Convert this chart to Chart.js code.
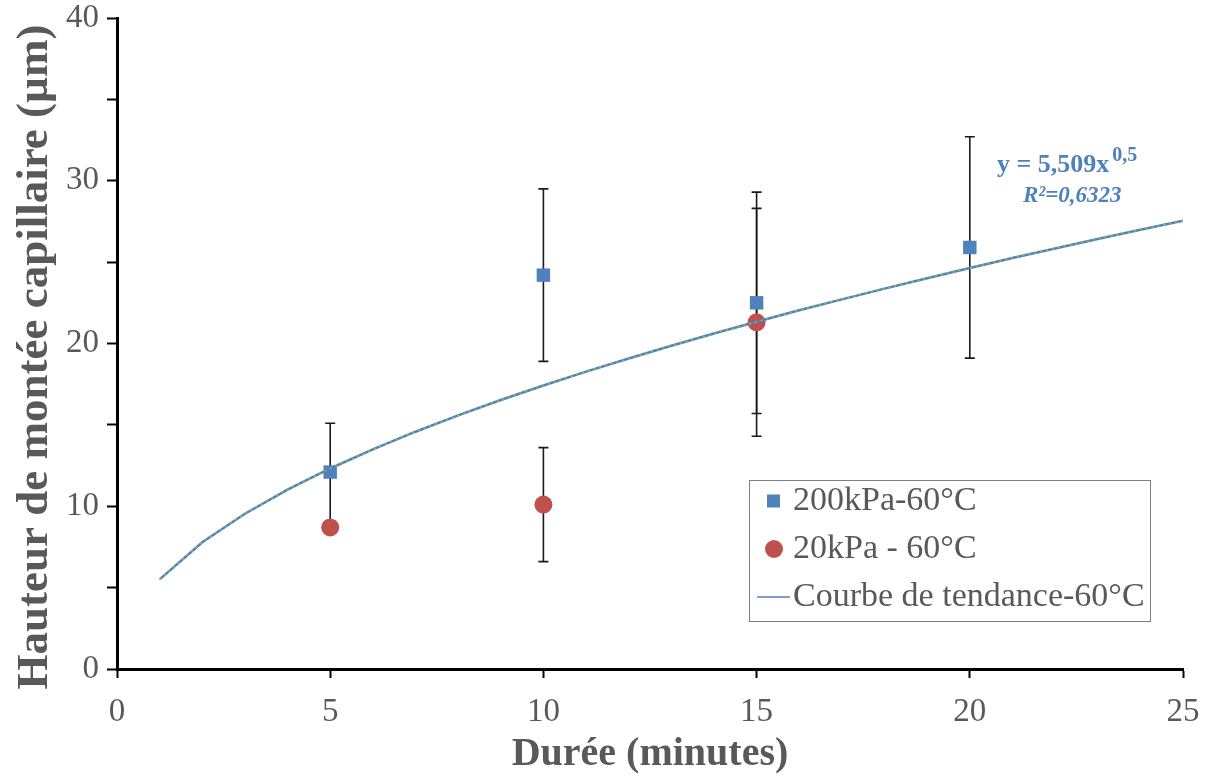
<!DOCTYPE html>
<html><head><meta charset="utf-8">
<script src="https://cdn.jsdelivr.net/npm/chart.js@4.4.1/dist/chart.umd.min.js"></script>
<style>html,body{margin:0;padding:0;background:#fff;} #wrap{width:1207px;height:780px;position:relative;}</style>
</head><body><div id="wrap"><canvas id="c" width="1207" height="780"></canvas></div>
<script>
// ---- data ----
const durations200 = [5, 10, 15, 20];
const height200 = [12.1, 24.2, 22.5, 25.9];
const err200 = [3.0, 5.3, 6.8, 6.8];
const durations20 = [5, 10, 15];
const height20 = [8.7, 10.1, 21.3];
const err20 = [0, 3.5, 7.0];
const trendX = [1,2,3,4,5,6,7,8,9,10,11,12,13,14,15,16,17,18,19,20,21,22,23,24,25];
const trendY = [5.51,7.79,9.54,11.02,12.32,13.49,14.58,15.58,16.53,17.42,18.27,19.08,19.86,20.61,21.34,22.04,22.71,23.37,24.01,24.64,25.25,25.84,26.42,26.99,27.55];
const seriesLabels = ['200kPa-60°C', '20kPa - 60°C', 'Courbe de tendance-60°C'];
const equationText = 'y = 5,509x';
const exponentText = '0,5';
const r2Text = 'R²=0,6323';
const xTitle = 'Durée (minutes)';
const yTitle = 'Hauteur de montée capillaire (µm)';

const BLUE = '#4F81BD', RED = '#C0504D', GREEN = '#9BBB59', GREY = '#595959';
const SERIF = '"Liberation Serif", "Times New Roman", serif';

const pts = (xs, ys) => xs.map((x, i) => ({x, y: ys[i]}));

const errorBars = {
  id: 'errorBars',
  beforeDatasetsDraw(chart) {
    const {ctx, scales: {x, y}} = chart;
    ctx.save();
    ctx.strokeStyle = '#1a1a1a';
    ctx.lineWidth = 1.6;
    const draw = (xs, ys, es) => xs.forEach((xv, i) => {
      if (!es[i]) return;
      const px = x.getPixelForValue(xv);
      const top = y.getPixelForValue(ys[i] + es[i]);
      const bot = y.getPixelForValue(ys[i] - es[i]);
      ctx.beginPath();
      ctx.moveTo(px, top); ctx.lineTo(px, bot);
      ctx.moveTo(px - 5, top); ctx.lineTo(px + 5, top);
      ctx.moveTo(px - 5, bot); ctx.lineTo(px + 5, bot);
      ctx.stroke();
    });
    draw(durations200, height200, err200);
    draw(durations20, height20, err20);
    ctx.restore();
  }
};

const overlay = {
  id: 'overlay',
  afterDraw(chart) {
    const {ctx} = chart;
    ctx.save();
    // y axis title (rotated)
    ctx.fillStyle = GREY;
    ctx.font = 'bold 45px ' + SERIF;
    ctx.textAlign = 'center';
    ctx.textBaseline = 'middle';
    ctx.translate(35, 357);
    ctx.rotate(-Math.PI / 2);
    ctx.fillText(yTitle, 0, 0);
    ctx.setTransform(1, 0, 0, 1, 0, 0);
    // legend box
    ctx.strokeStyle = '#7f7f7f';
    ctx.lineWidth = 1;
    ctx.fillStyle = '#fff';
    ctx.fillRect(749, 480, 402, 142);
    ctx.strokeRect(749.5, 480.5, 401, 141);
    const rows = [501, 549, 597];
    ctx.font = '34px ' + SERIF;
    ctx.fillStyle = GREY;
    ctx.textBaseline = 'middle';
    ctx.textAlign = 'left';
    seriesLabels.forEach((t, i) => ctx.fillText(t, 793, rows[i]));
    // markers
    ctx.fillStyle = BLUE;
    ctx.fillRect(767, rows[0] - 6.5, 13, 13);
    ctx.fillStyle = RED;
    ctx.beginPath(); ctx.arc(774, rows[1], 9, 0, Math.PI * 2); ctx.fill();
    ctx.strokeStyle = BLUE; ctx.lineWidth = 1.5;
    ctx.beginPath(); ctx.moveTo(757, rows[2]); ctx.lineTo(790, rows[2]); ctx.stroke();
    // equation
    ctx.fillStyle = BLUE;
    ctx.textBaseline = 'alphabetic';
    ctx.font = 'bold 26px ' + SERIF;
    ctx.fillText(equationText, 997, 172);
    const w = ctx.measureText(equationText).width;
    ctx.font = 'bold 20px ' + SERIF;
    ctx.fillText(exponentText, 997 + w + 3, 161);
    ctx.font = 'italic bold 23px ' + SERIF;
    ctx.fillText(r2Text, 1023, 202);
    ctx.restore();
  }
};

new Chart(document.getElementById('c'), {
  type: 'scatter',
  data: {
    datasets: [
      { label: seriesLabels[2], data: pts(trendX, trendY), showLine: true, borderColor: BLUE, borderWidth: 2.5, pointRadius: 0, tension: 0, order: 1 },
      { label: 'trend-overlay', data: pts(trendX, trendY), showLine: true, borderColor: GREEN, borderWidth: 1.5, borderDash: [2, 4], pointRadius: 0, tension: 0, order: 0 },
      { label: seriesLabels[0], data: pts(durations200, height200), pointStyle: 'rect', pointRadius: 9.5, backgroundColor: BLUE, borderColor: BLUE, borderWidth: 0, order: 2 },
      { label: seriesLabels[1], data: pts(durations20, height20), pointStyle: 'circle', pointRadius: 9, backgroundColor: RED, borderColor: RED, borderWidth: 0, order: 3 }
    ]
  },
  options: {
    responsive: false,
    animation: false,
    devicePixelRatio: 1,
    layout: { padding: { top: 18, right: 24, left: 0, bottom: 0 } },
    plugins: { legend: { display: false }, tooltip: { enabled: false } },
    scales: {
      x: {
        type: 'linear', min: 0, max: 25,
        afterFit: s => { s.height = 111; s.paddingLeft = 0; s.paddingRight = 0; },
        ticks: { stepSize: 5, color: GREY, font: { family: SERIF, size: 33, lineHeight: 1 }, padding: 18, maxRotation: 0 },
        grid: { drawOnChartArea: false, drawTicks: true, tickLength: 9, tickWidth: 2, tickColor: '#000' },
        border: { display: true, color: '#000', width: 3 },
        title: { display: true, text: xTitle, color: GREY, font: { family: SERIF, size: 40, weight: 'bold', lineHeight: 1.2 }, padding: { top: 0, bottom: 1 } }
      },
      y: {
        type: 'linear', min: 0, max: 40,
        afterFit: s => { s.width = 117; s.paddingTop = 0; s.paddingBottom = 0; },
        ticks: { stepSize: 5, color: GREY, font: { family: SERIF, size: 33, lineHeight: 1 }, padding: 8, callback: v => (v % 10 === 0 ? String(v) : '') },
        grid: { drawOnChartArea: false, drawTicks: true, tickLength: 10, tickWidth: 2, tickColor: '#000' },
        border: { display: true, color: '#000', width: 3 },
        title: { display: false, text: yTitle }
      }
    }
  },
  plugins: [errorBars, overlay]
});
</script>
</body></html>
